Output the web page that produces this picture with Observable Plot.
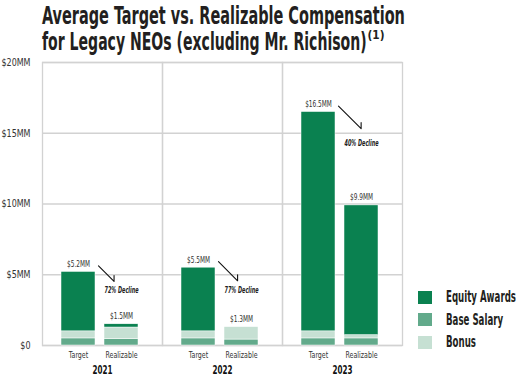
<!DOCTYPE html>
<html>
<head>
<meta charset="utf-8">
<script src="https://cdn.jsdelivr.net/npm/d3@7"></script>
<script src="https://cdn.jsdelivr.net/npm/@observablehq/plot@0.6"></script>
<style>
  html, body { margin: 0; padding: 0; background: #fff; }
  body { width: 516px; height: 377px; overflow: hidden; position: relative;
         font-family: "Liberation Sans Narrow", "DejaVu Sans Condensed", "Roboto", sans-serif; }
  #title { position: absolute; left: 0; top: 0; }
  #chart { position: absolute; left: 0; top: 55px; }
  #legend { position: absolute; left: 418px; top: 286px; }
  .item { display: flex; align-items: center; height: 22.5px; font-weight: bold; font-size: 15px; color: #231f20; white-space: nowrap; }
  .sw { width: 14px; height: 13px; margin-right: 14px; flex: none; }
  .lbl { display: inline-block; transform-origin: 0 50%; }
</style>
</head>
<body>
<svg id="title" width="516" height="55"></svg>
<div id="chart"></div>
<div id="legend"></div>
<script>
const titleLines = ["Average Target vs. Realizable Compensation", "for Legacy NEOs (excluding Mr. Richison)"];
const titleNote = "(1)";
const years = ["2021", "2022", "2023"];
const types = ["Target", "Realizable"];
const components = ["Equity Awards", "Base Salary", "Bonus"];
const colors = ["#0a8150", "#62aa8b", "#c6e0d3"];
// values in $MM, order: 2021 Target, 2021 Realizable, 2022 Target, 2022 Realizable, 2023 Target, 2023 Realizable
const baseSalary = [0.5, 0.45, 0.5, 0.42, 0.5, 0.5];
const bonus =      [0.5, 0.82, 0.5, 0.88, 0.5, 0.23];
const equity =     [4.2, 0.23, 4.5, 0.0, 15.5, 9.17];
const totals =     [5.2, 1.5, 5.5, 1.3, 16.5, 9.9];
const totalLabels = ["$5.2MM", "$1.5MM", "$5.5MM", "$1.3MM", "$16.5MM", "$9.9MM"];
const declineLabels = ["72% Decline", "77% Decline", "40% Decline"];
const declineLabelY = [3.9, 3.9, 14.3];
const yTicks = [0, 5, 10, 15, 20];
const yTickLabels = ["$0", "$5MM", "$10MM", "$15MM", "$20MM"];

const fontFam = getComputedStyle(document.body).fontFamily;

// title (condensed with a horizontal scale)
const ts = d3.select("#title").attr("font-family", fontFam).attr("font-weight", "bold").attr("fill", "#231f20");
function condensedText(x, y, size, str, w) {
  const el = ts.append("text").attr("font-size", size).text(str);
  const nat = el.node().getComputedTextLength();
  el.attr("transform", `translate(${x},${y}) scale(${w / nat},1)`);
  return el;
}
condensedText(42, 24, 25, titleLines[0], 363);
condensedText(42, 50, 25, titleLines[1], 325);
condensedText(367.5, 39, 12, titleNote, 17);

// tidy data
const rows = [];
const bars = [];
years.forEach((yr, i) => types.forEach((tp, j) => {
  const k = i * 2 + j;
  rows.push({year: yr, type: tp, comp: "Base Salary", value: baseSalary[k]});
  rows.push({year: yr, type: tp, comp: "Bonus", value: bonus[k]});
  rows.push({year: yr, type: tp, comp: "Equity Awards", value: equity[k]});
  bars.push({year: yr, type: tp, total: totals[k], label: totalLabels[k]});
}));
const declines = years.map((yr, i) => ({year: yr, target: totals[i * 2], label: declineLabels[i], y: declineLabelY[i]}));
const arrowLen = [22, 27, 32];

const grid = "#d2d2d2";

const arrowShape = {
  draw(context, l) {
    context.moveTo(0, 0);
    context.lineTo(0, -l);
    const s = 6 * Math.SQRT1_2;
    context.lineTo(-s, -l + s);
  }
};

const plot = Plot.plot({
  width: 516,
  height: 322,
  marginLeft: 42,
  marginRight: 114,
  marginTop: 7,
  marginBottom: 32,
  style: {fontFamily: fontFam, background: "transparent", color: "#333"},
  fx: {domain: years, padding: 0, label: null},
  x: {domain: types, paddingInner: 0.21, paddingOuter: 0.5, align: 0.45, label: null},
  y: {domain: [0, 20], label: null},
  color: {domain: components, range: colors},
  marks: [
    Plot.gridY(yTicks, {stroke: grid, strokeOpacity: 1, strokeWidth: 1.3}),
    Plot.frame({stroke: grid, strokeWidth: 1.3}),
    Plot.axisY(yTicks, {tickSize: 0, tickPadding: 12, fontSize: 10.5, tickFormat: (d) => yTickLabels[yTicks.indexOf(d)], label: null, fill: "#333"}),
    Plot.axisX({tickSize: 0, tickPadding: 6, fontSize: 9.5, label: null, fill: "#333"}),
    Plot.axisFx({anchor: "bottom", tickSize: 0, tickPadding: 20, fontSize: 11.5, fontWeight: "bold", label: null, fill: "#111"}),
    Plot.barY(rows, {fx: "year", x: "type", y: "value", fill: "comp", stroke: "white", strokeWidth: 0.5}),
    Plot.text(bars, {fx: "year", x: "type", y: "total", text: "label", dy: -8, fontSize: 9.4, fill: "#333"}),
    Plot.text(declines, {fx: "year", x: () => "Realizable", y: "y", text: "label", fontSize: 9, fontWeight: "bold", fontStyle: "italic", fill: "#222"}),
    ...declines.map((d, i) => Plot.vector([d], {
      fx: "year", x: () => "Target", y: "target", dx: 20, dy: -6,
      rotate: 135, length: arrowLen[i], anchor: "start", shape: arrowShape,
      stroke: "#111", strokeWidth: 1.1
    }))
  ]
});
document.getElementById("chart").appendChild(plot);

// condense SVG text to mimic the narrow typeface
const roles = [
  {fs: "10.5", sample: "$20MM", width: 29},
  {fs: "9.5", sample: "Realizable", width: 32},
  {fs: "11.5", sample: "2021", width: 20},
  {fs: "9.4", sample: "$5.2MM", width: 23},
  {fs: "9", sample: "72% Decline", width: 34}
];
const texts = Array.from(plot.querySelectorAll("text"));
roles.forEach(r => {
  const mine = texts.filter(tx => { const g = tx.closest("[font-size]"); return g && g.getAttribute("font-size") === r.fs; });
  const s = mine.find(tx => tx.textContent === r.sample);
  if (!s) return;
  const f = r.width / s.getComputedTextLength();
  mine.forEach(tx => {
    const len = tx.getComputedTextLength();
    tx.setAttribute("textLength", len * f);
    tx.setAttribute("lengthAdjust", "spacingAndGlyphs");
  });
});

// legend
const lg = document.getElementById("legend");
components.forEach((c, i) => {
  const d = document.createElement("div");
  d.className = "item";
  d.innerHTML = `<span class="sw" style="background:${colors[i]}"></span><span class="lbl">${c}</span>`;
  lg.appendChild(d);
});
const lbls = lg.querySelectorAll(".lbl");
const lScale = 70 / lbls[0].getBoundingClientRect().width;
lbls.forEach(l => l.style.transform = `scaleX(${lScale})`);
</script>
</body>
</html>
